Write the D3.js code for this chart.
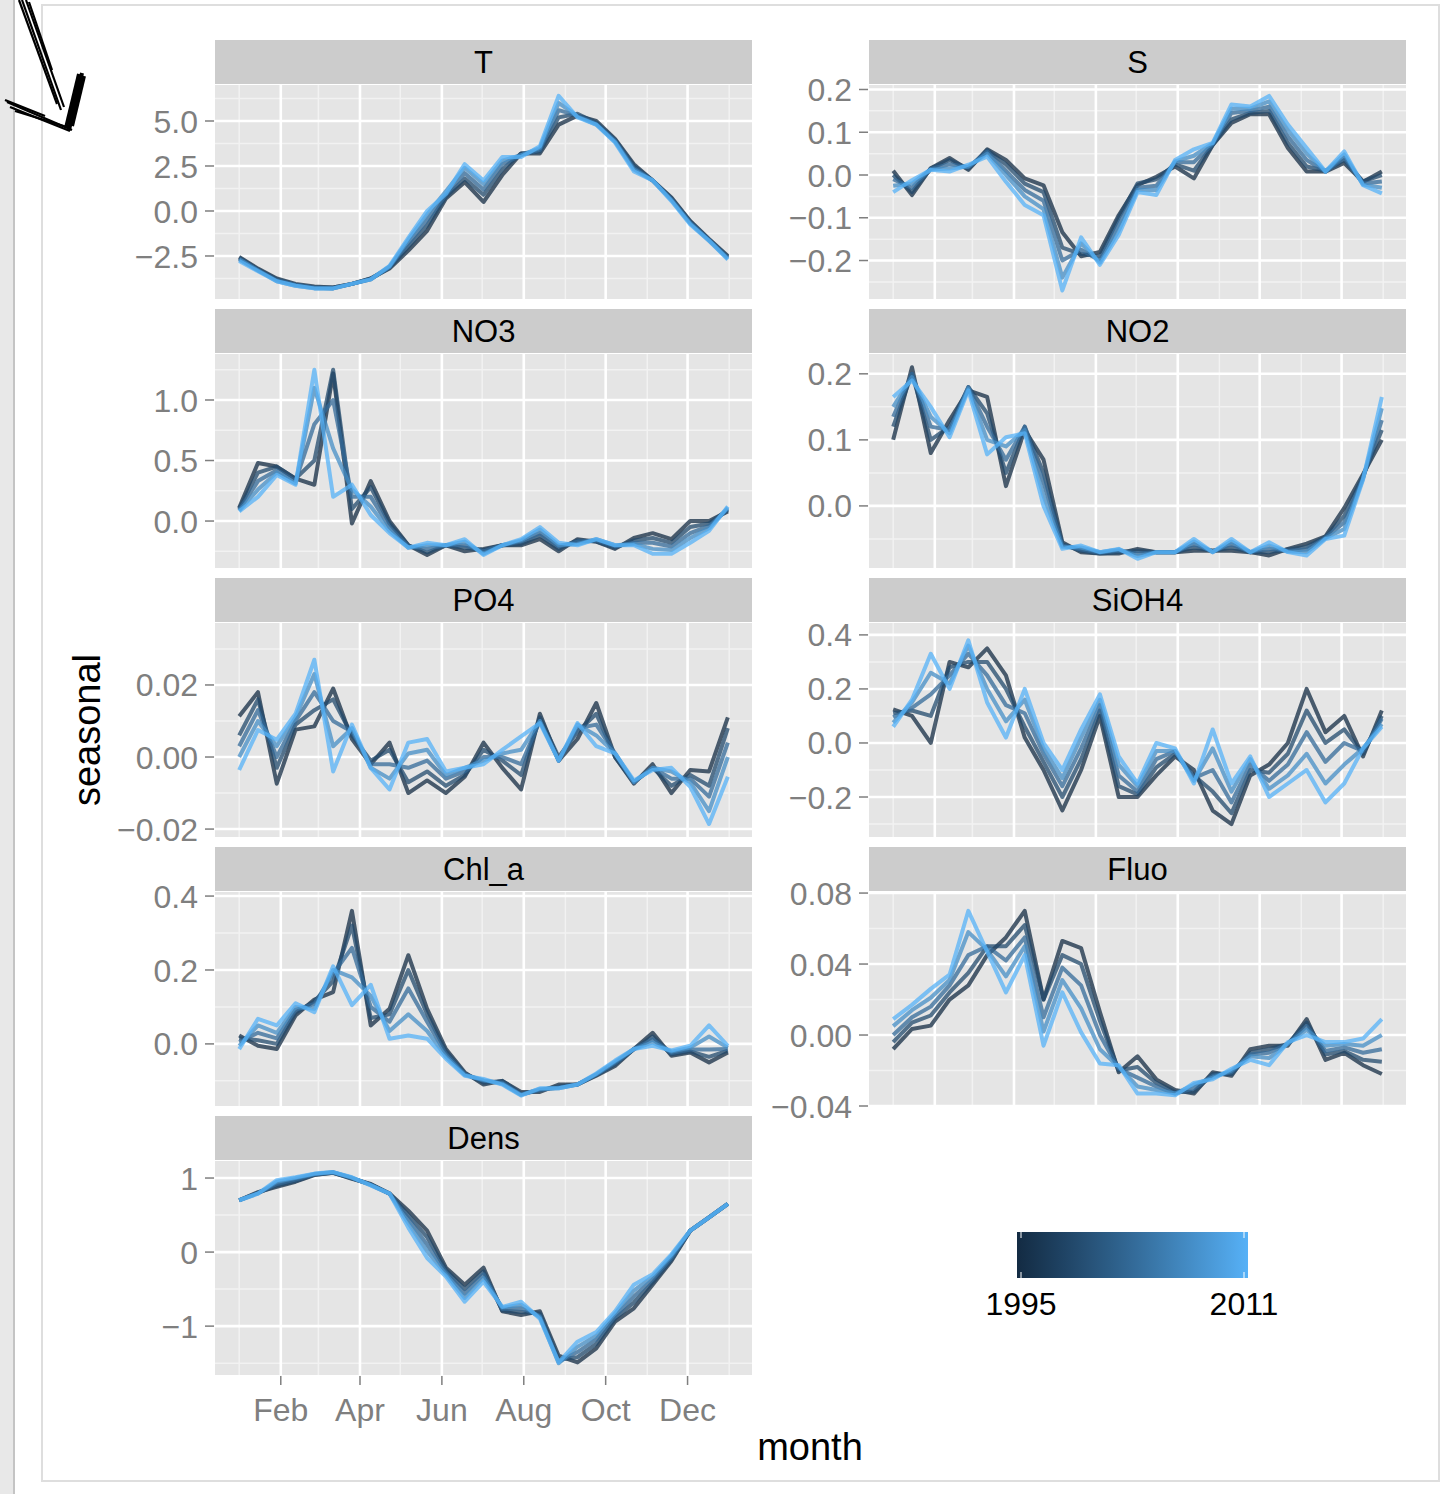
<!DOCTYPE html>
<html>
<head>
<meta charset="utf-8">
<script src="https://cdn.jsdelivr.net/npm/d3@7"></script>
<style>
  body { margin: 0; background: #fff; }
  text { font-family: "Liberation Sans", Arial, sans-serif; }
</style>
</head>
<body>
<script>
// years drawn (dark -> light) and sampling days of the year
const years = [1995, 1999, 2003, 2007, 2011];
const days = [1, 15, 29, 43, 57, 71, 85, 99, 113, 127, 141, 155, 169, 183, 197, 211, 225, 239, 253, 267, 281, 295, 309, 323, 337, 351, 365];

// seasonal component, one row per year (same order as `years`)
const T = [
  [-2.55,-3.2,-3.75,-4.05,-4.2,-4.25,-4.05,-3.75,-3.2,-2.2,-1.1,0.7,1.6,0.5,2.0,3.2,3.2,4.8,5.3,5.0,4.0,2.6,1.7,0.75,-0.55,-1.55,-2.5],
  [-2.6,-3.25,-3.8,-4.1,-4.25,-4.25,-4.05,-3.75,-3.15,-2.0,-0.8,0.8,1.8,0.9,2.3,3.2,3.3,5.2,5.4,4.9,3.95,2.5,1.7,0.7,-0.6,-1.6,-2.55],
  [-2.65,-3.3,-3.85,-4.1,-4.25,-4.3,-4.05,-3.8,-3.1,-1.8,-0.5,0.9,2.1,1.2,2.6,3.1,3.4,5.6,5.3,4.85,3.9,2.4,1.7,0.65,-0.65,-1.6,-2.6],
  [-2.7,-3.3,-3.9,-4.15,-4.3,-4.3,-4.05,-3.8,-3.1,-1.6,-0.2,1.1,2.4,1.5,2.8,3.1,3.5,6.0,5.25,4.8,3.85,2.3,1.7,0.6,-0.7,-1.65,-2.65],
  [-2.78,-3.35,-3.9,-4.15,-4.3,-4.3,-4.05,-3.8,-3.05,-1.5,0.0,0.95,2.6,1.7,3.0,3.0,3.6,6.4,5.2,4.8,3.8,2.2,1.7,0.55,-0.75,-1.65,-2.7]
];
const S = [
  [0.01,-0.047,0.016,0.04,0.012,0.06,0.035,-0.008,-0.024,-0.134,-0.19,-0.18,-0.094,-0.024,-0.004,0.02,-0.008,0.07,0.122,0.142,0.142,0.063,0.008,0.008,0.028,-0.016,0.008],
  [0.0,-0.04,0.015,0.035,0.015,0.058,0.025,-0.02,-0.04,-0.17,-0.185,-0.19,-0.1,-0.02,-0.01,0.025,0.01,0.07,0.13,0.145,0.15,0.075,0.02,0.01,0.035,-0.015,0.0],
  [-0.01,-0.03,0.014,0.025,0.018,0.055,0.01,-0.035,-0.06,-0.2,-0.175,-0.2,-0.115,-0.03,-0.025,0.03,0.03,0.072,0.145,0.15,0.16,0.09,0.035,0.008,0.04,-0.02,-0.015],
  [-0.025,-0.02,0.013,0.015,0.02,0.05,0.0,-0.05,-0.08,-0.24,-0.16,-0.205,-0.13,-0.035,-0.035,0.032,0.045,0.074,0.155,0.155,0.172,0.105,0.05,0.008,0.048,-0.022,-0.03],
  [-0.04,-0.012,0.012,0.008,0.024,0.043,-0.016,-0.07,-0.094,-0.27,-0.146,-0.21,-0.14,-0.04,-0.047,0.035,0.06,0.075,0.165,0.16,0.185,0.118,0.063,0.008,0.055,-0.024,-0.043]
];
const NO3 = [
  [0.11,0.48,0.45,0.35,0.3,1.22,-0.02,0.33,0.0,-0.2,-0.28,-0.2,-0.25,-0.23,-0.2,-0.2,-0.15,-0.25,-0.15,-0.17,-0.23,-0.14,-0.1,-0.15,0.0,0.0,0.08],
  [0.1,0.4,0.45,0.35,0.5,1.25,0.1,0.28,-0.02,-0.2,-0.26,-0.2,-0.22,-0.24,-0.2,-0.19,-0.12,-0.23,-0.16,-0.17,-0.22,-0.16,-0.14,-0.18,-0.05,-0.02,0.09],
  [0.09,0.33,0.42,0.33,0.8,1.0,0.2,0.2,-0.05,-0.21,-0.23,-0.2,-0.2,-0.25,-0.2,-0.17,-0.1,-0.21,-0.17,-0.16,-0.21,-0.18,-0.18,-0.21,-0.1,-0.04,0.1],
  [0.085,0.26,0.4,0.31,1.1,0.6,0.26,0.12,-0.08,-0.22,-0.2,-0.2,-0.17,-0.27,-0.2,-0.16,-0.07,-0.2,-0.19,-0.15,-0.2,-0.19,-0.23,-0.24,-0.14,-0.06,0.11],
  [0.08,0.2,0.38,0.3,1.25,0.2,0.3,0.05,-0.1,-0.22,-0.18,-0.2,-0.15,-0.28,-0.2,-0.15,-0.05,-0.18,-0.2,-0.15,-0.2,-0.2,-0.27,-0.27,-0.18,-0.08,0.12]
];
const NO2 = [
  [0.1,0.21,0.08,0.13,0.175,0.165,0.03,0.115,0.07,-0.055,-0.07,-0.072,-0.072,-0.065,-0.07,-0.07,-0.068,-0.068,-0.068,-0.07,-0.075,-0.065,-0.057,-0.046,-0.003,0.048,0.1],
  [0.12,0.2,0.1,0.12,0.18,0.14,0.05,0.12,0.05,-0.058,-0.068,-0.072,-0.07,-0.068,-0.07,-0.07,-0.063,-0.068,-0.063,-0.07,-0.07,-0.066,-0.062,-0.047,-0.015,0.045,0.115],
  [0.135,0.2,0.12,0.115,0.18,0.12,0.07,0.12,0.035,-0.06,-0.066,-0.071,-0.068,-0.072,-0.07,-0.07,-0.058,-0.069,-0.058,-0.07,-0.065,-0.068,-0.066,-0.048,-0.025,0.043,0.13],
  [0.15,0.195,0.135,0.11,0.178,0.1,0.09,0.115,0.015,-0.062,-0.063,-0.07,-0.066,-0.076,-0.07,-0.07,-0.054,-0.07,-0.054,-0.07,-0.06,-0.069,-0.07,-0.049,-0.035,0.041,0.148],
  [0.165,0.19,0.15,0.104,0.175,0.078,0.104,0.11,0.0,-0.065,-0.06,-0.07,-0.065,-0.08,-0.07,-0.07,-0.05,-0.07,-0.05,-0.07,-0.055,-0.07,-0.075,-0.05,-0.045,0.04,0.165]
];
const PO4 = [
  [0.0113,0.018,-0.0074,0.0076,0.0085,0.019,0.005,-0.002,0.004,-0.01,-0.0065,-0.01,-0.0055,0.004,-0.003,-0.009,0.012,-0.001,0.005,0.015,0.0,-0.0074,-0.002,-0.01,-0.0036,-0.004,0.011],
  [0.006,0.016,-0.003,0.009,0.013,0.016,0.006,-0.001,0.002,-0.007,-0.004,-0.008,-0.005,0.002,-0.001,-0.005,0.011,0.0,0.007,0.012,0.0,-0.007,-0.003,-0.008,-0.005,-0.008,0.008],
  [0.003,0.013,0.0,0.01,0.018,0.01,0.007,-0.002,-0.002,-0.003,-0.001,-0.006,-0.004,0.0,0.0,-0.002,0.01,-0.001,0.008,0.009,0.001,-0.007,-0.003,-0.006,-0.006,-0.011,0.004],
  [0.0,0.01,0.003,0.011,0.023,0.003,0.008,-0.003,-0.006,0.001,0.002,-0.005,-0.003,-0.001,0.001,0.002,0.01,-0.001,0.009,0.006,0.001,-0.007,-0.003,-0.004,-0.007,-0.015,0.0],
  [-0.0036,0.0075,0.0048,0.012,0.027,-0.004,0.009,-0.003,-0.009,0.004,0.005,-0.004,-0.003,-0.002,0.002,0.0057,0.0094,-0.001,0.0094,0.003,0.001,-0.0065,-0.0036,-0.003,-0.0083,-0.0186,-0.0055]
];
const SiOH4 = [
  [0.124,0.1,0.0,0.3,0.28,0.35,0.25,0.02,-0.1,-0.25,-0.1,0.1,-0.2,-0.2,-0.12,-0.05,-0.1,-0.25,-0.3,-0.12,-0.08,0.0,0.2,0.04,0.1,-0.05,0.12],
  [0.11,0.12,0.1,0.28,0.3,0.3,0.2,0.06,-0.07,-0.2,-0.06,0.12,-0.16,-0.19,-0.09,-0.04,-0.12,-0.18,-0.26,-0.1,-0.11,-0.04,0.12,0.0,0.05,-0.04,0.1],
  [0.095,0.13,0.18,0.25,0.33,0.25,0.14,0.11,-0.04,-0.16,-0.02,0.14,-0.12,-0.18,-0.06,-0.03,-0.13,-0.1,-0.22,-0.08,-0.14,-0.08,0.04,-0.07,0.0,-0.03,0.09],
  [0.075,0.15,0.26,0.22,0.36,0.2,0.08,0.16,-0.02,-0.13,0.02,0.16,-0.08,-0.16,-0.03,-0.03,-0.14,-0.02,-0.18,-0.06,-0.17,-0.12,-0.04,-0.15,-0.08,-0.02,0.07],
  [0.06,0.16,0.33,0.2,0.38,0.15,0.02,0.2,0.0,-0.1,0.05,0.18,-0.05,-0.15,0.0,-0.02,-0.15,0.05,-0.15,-0.05,-0.2,-0.15,-0.1,-0.22,-0.15,-0.02,0.06]
];
const Chl_a = [
  [0.023,-0.005,-0.014,0.077,0.12,0.14,0.36,0.05,0.095,0.24,0.095,-0.014,-0.077,-0.11,-0.1,-0.13,-0.13,-0.11,-0.11,-0.086,-0.06,-0.014,0.03,-0.032,-0.023,-0.05,-0.023],
  [0.015,0.01,0.0,0.085,0.115,0.17,0.32,0.07,0.08,0.2,0.08,-0.02,-0.08,-0.105,-0.1,-0.135,-0.125,-0.115,-0.11,-0.084,-0.055,-0.014,0.02,-0.028,-0.02,-0.035,-0.018],
  [0.005,0.03,0.015,0.092,0.108,0.19,0.26,0.1,0.06,0.15,0.06,-0.027,-0.082,-0.1,-0.105,-0.137,-0.125,-0.118,-0.11,-0.083,-0.052,-0.014,0.012,-0.025,-0.015,-0.015,-0.014],
  [-0.005,0.05,0.03,0.1,0.095,0.2,0.18,0.13,0.035,0.08,0.035,-0.034,-0.084,-0.098,-0.108,-0.138,-0.122,-0.12,-0.11,-0.082,-0.048,-0.014,0.004,-0.021,-0.01,0.02,-0.01],
  [-0.014,0.068,0.05,0.11,0.086,0.21,0.105,0.16,0.014,0.023,0.014,-0.04,-0.086,-0.095,-0.11,-0.14,-0.12,-0.12,-0.11,-0.08,-0.045,-0.014,-0.005,-0.018,-0.005,0.05,-0.005]
];
const Fluo = [
  [-0.008,0.0034,0.0053,0.02,0.028,0.045,0.055,0.07,0.02,0.053,0.049,0.013,-0.021,-0.012,-0.025,-0.031,-0.033,-0.021,-0.023,-0.008,-0.006,-0.006,0.009,-0.014,-0.01,-0.017,-0.022],
  [-0.004,0.007,0.011,0.024,0.035,0.05,0.05,0.062,0.02,0.045,0.04,0.008,-0.02,-0.018,-0.027,-0.032,-0.032,-0.022,-0.022,-0.01,-0.008,-0.005,0.007,-0.011,-0.009,-0.014,-0.015],
  [0.0,0.01,0.016,0.028,0.045,0.05,0.042,0.055,0.01,0.038,0.028,0.0,-0.019,-0.024,-0.029,-0.033,-0.03,-0.023,-0.021,-0.011,-0.01,-0.005,0.005,-0.009,-0.007,-0.01,-0.008],
  [0.005,0.014,0.021,0.031,0.058,0.048,0.033,0.05,0.002,0.031,0.015,-0.008,-0.018,-0.029,-0.031,-0.033,-0.028,-0.024,-0.02,-0.012,-0.013,-0.005,0.003,-0.006,-0.005,-0.006,0.0],
  [0.009,0.017,0.026,0.034,0.07,0.047,0.024,0.045,-0.006,0.024,0.0015,-0.016,-0.017,-0.033,-0.033,-0.034,-0.027,-0.025,-0.019,-0.014,-0.017,-0.004,0.0,-0.004,-0.004,-0.002,0.009]
];
const Dens = [
  [0.7,0.81,0.88,0.95,1.04,1.07,0.99,0.92,0.79,0.56,0.29,-0.21,-0.44,-0.21,-0.8,-0.85,-0.8,-1.4,-1.49,-1.3,-0.94,-0.76,-0.44,-0.12,0.29,0.47,0.65],
  [0.7,0.8,0.9,0.96,1.045,1.07,0.995,0.915,0.79,0.5,0.2,-0.24,-0.5,-0.26,-0.79,-0.81,-0.83,-1.45,-1.42,-1.24,-0.9,-0.68,-0.41,-0.1,0.29,0.47,0.65],
  [0.7,0.8,0.92,0.98,1.05,1.075,1.0,0.91,0.79,0.45,0.1,-0.27,-0.56,-0.3,-0.77,-0.76,-0.86,-1.48,-1.35,-1.18,-0.87,-0.6,-0.37,-0.08,0.29,0.47,0.65],
  [0.7,0.79,0.95,1.0,1.055,1.08,1.005,0.905,0.79,0.39,0.01,-0.3,-0.62,-0.35,-0.75,-0.71,-0.88,-1.5,-1.28,-1.13,-0.83,-0.52,-0.33,-0.05,0.29,0.47,0.65],
  [0.7,0.79,0.97,1.01,1.06,1.08,1.01,0.9,0.79,0.33,-0.08,-0.33,-0.67,-0.4,-0.74,-0.67,-0.9,-1.49,-1.21,-1.08,-0.8,-0.44,-0.3,-0.03,0.29,0.47,0.65]
];

// facet order and y tick labels
const variables = ['T', 'S', 'NO3', 'NO2', 'PO4', 'SiOH4', 'Chl_a', 'Fluo', 'Dens'];
const ticksT = [-2.5, 0, 2.5, 5];
const ticksS = [-0.2, -0.1, 0, 0.1, 0.2];
const ticksNO3 = [0, 0.5, 1];
const ticksNO2 = [0, 0.1, 0.2];
const ticksPO4 = [-0.02, 0, 0.02];
const ticksSiOH4 = [-0.2, 0, 0.2, 0.4];
const ticksChl_a = [0, 0.2, 0.4];
const ticksFluo = [-0.04, 0, 0.04, 0.08];
const ticksDens = [-1, 0, 1];
const monthTicks = ['Feb', 'Apr', 'Jun', 'Aug', 'Oct', 'Dec'];

const seriesByVar = { T, S, NO3, NO2, PO4, SiOH4, Chl_a, Fluo, Dens };
const ticksByVar = {
  T: ticksT, S: ticksS, NO3: ticksNO3, NO2: ticksNO2, PO4: ticksPO4,
  SiOH4: ticksSiOH4, Chl_a: ticksChl_a, Fluo: ticksFluo, Dens: ticksDens
};
const formatByVar = {
  T: '.1f', S: '.1f', NO3: '.1f', NO2: '.1f', PO4: '.2f',
  SiOH4: '.1f', Chl_a: '.1f', Fluo: '.2f', Dens: 'd'
};
// free y scales (limits of each panel)
const yLimits = {
  T: [-4.89, 7.0], S: [-0.29, 0.2105], NO3: [-0.388, 1.38], NO2: [-0.094, 0.23],
  PO4: [-0.0222, 0.0372], SiOH4: [-0.348, 0.444], Chl_a: [-0.168, 0.411],
  Fluo: [-0.04, 0.0806], Dens: [-1.66, 1.23]
};

const width = 1446;
const height = 1494;
const colX = [215, 869];
const panelW = 537;
const panelH = 214;
const stripH = 44;
const rowTop = 40;
const rowStep = 269;
const axisGrey = '#7f7f7f';

const svg = d3.select('body').append('svg')
  .attr('width', width)
  .attr('height', height);

// screenshot frame around the figure
svg.append('rect').attr('x', 0).attr('y', 0).attr('width', 13).attr('height', height).attr('fill', '#e8e8e8');
svg.append('line').attr('x1', 14).attr('x2', 14).attr('y1', 0).attr('y2', height)
  .attr('stroke', '#c4c4c4').attr('stroke-width', 2);
svg.append('rect').attr('x', 42).attr('y', 5).attr('width', 1397).attr('height', 1476)
  .attr('fill', 'none').attr('stroke', '#dedede').attr('stroke-width', 2);

// hand drawn arrow in the corner
const arrowStrokes = [
  [[22, 0], [61, 110]], [[26, 0], [64, 107]], [[29, 2], [52, 70]], [[19, 0], [57, 104]],
  [[7, 102], [72, 130]], [[10, 107], [70, 131]], [[15, 111], [67, 127]], [[5, 100], [45, 116]],
  [[82, 73], [69, 130]], [[79, 74], [66, 128]], [[84, 76], [72, 126]]
];
svg.append('g').selectAll('path')
  .data(arrowStrokes)
  .enter()
  .append('path')
  .attr('d', (s) => d3.line()(s))
  .attr('stroke', '#000')
  .attr('stroke-width', (s, i) => (i >= 8 ? 4 : 2.2))
  .attr('fill', 'none');

const toDate = (day) => new Date(2001, 0, day);
const pad = 364 * 0.05;
const x = d3.scaleTime()
  .domain([toDate(1 - pad), toDate(365 + pad)])
  .range([0, panelW]);
const majorDates = monthTicks.map((m) => d3.timeParse('%Y %b %d')('2001 ' + m + ' 01'));
const minorDates = [0, 2, 4, 6, 8, 10, 12].map((m) => new Date(2001, m, 1));

const color = d3.scaleLinear()
  .domain([years[0], years[years.length - 1]])
  .range(['#132B43', '#56B1F7'])
  .interpolate(d3.interpolateLab);

variables.forEach((name, i) => {
  const col = i % 2;
  const row = Math.floor(i / 2);
  const stripY = rowTop + row * rowStep;
  const px = colX[col];
  const py = stripY + stripH + 1;

  const y = d3.scaleLinear().domain(yLimits[name]).range([panelH, 0]);
  const ticks = ticksByVar[name];
  const step = ticks[1] - ticks[0];
  const minor = [ticks[0] - step / 2].concat(ticks.map((t) => t + step / 2))
    .filter((v) => v > yLimits[name][0] && v < yLimits[name][1]);

  // strip
  svg.append('rect').attr('x', px).attr('y', stripY).attr('width', panelW).attr('height', stripH)
    .attr('fill', '#cccccc');
  svg.append('text').attr('x', px + panelW / 2).attr('y', stripY + stripH / 2)
    .attr('dy', '0.36em').attr('text-anchor', 'middle')
    .attr('font-size', 31).attr('fill', '#000').text(name);

  const g = svg.append('g').attr('transform', 'translate(' + px + ',' + py + ')');
  g.append('rect').attr('width', panelW).attr('height', panelH).attr('fill', '#e5e5e5');

  g.selectAll('.minor-y').data(minor).enter().append('line')
    .attr('x1', 0).attr('x2', panelW).attr('y1', (d) => y(d)).attr('y2', (d) => y(d))
    .attr('stroke', '#f2f2f2').attr('stroke-width', 1.5);
  g.selectAll('.minor-x').data(minorDates).enter().append('line')
    .attr('x1', (d) => x(d)).attr('x2', (d) => x(d)).attr('y1', 0).attr('y2', panelH)
    .attr('stroke', '#f2f2f2').attr('stroke-width', 1.5);
  g.selectAll('.major-y').data(ticks).enter().append('line')
    .attr('x1', 0).attr('x2', panelW).attr('y1', (d) => y(d)).attr('y2', (d) => y(d))
    .attr('stroke', '#fff').attr('stroke-width', 2.6);
  g.selectAll('.major-x').data(majorDates).enter().append('line')
    .attr('x1', (d) => x(d)).attr('x2', (d) => x(d)).attr('y1', 0).attr('y2', panelH)
    .attr('stroke', '#fff').attr('stroke-width', 2.6);

  g.append('clipPath').attr('id', 'clip' + i)
    .append('rect').attr('width', panelW).attr('height', panelH);

  const line = d3.line()
    .x((v, k) => x(toDate(days[k])))
    .y((v) => y(v));

  g.append('g').attr('clip-path', 'url(#clip' + i + ')')
    .selectAll('path')
    .data(seriesByVar[name])
    .enter()
    .append('path')
    .attr('d', (s) => line(s))
    .attr('fill', 'none')
    .attr('stroke', (s, k) => color(years[k]))
    .attr('stroke-width', 4)
    .attr('stroke-opacity', 0.75)
    .attr('stroke-linejoin', 'round');

  // y axis
  const fmt = d3.format(formatByVar[name]);
  g.selectAll('.ytick').data(ticks).enter().append('line')
    .attr('x1', -10).attr('x2', -1).attr('y1', (d) => y(d)).attr('y2', (d) => y(d))
    .attr('stroke', axisGrey).attr('stroke-width', 1.5);
  g.selectAll('.ylab').data(ticks).enter().append('text')
    .attr('x', -17).attr('y', (d) => y(d)).attr('dy', '0.36em')
    .attr('text-anchor', 'end').attr('font-size', 32).attr('fill', axisGrey)
    .text((d) => fmt(d));

  // x axis only under the bottom panel
  if (name === 'Dens') {
    g.selectAll('.xtick').data(majorDates).enter().append('line')
      .attr('x1', (d) => x(d)).attr('x2', (d) => x(d)).attr('y1', panelH + 1).attr('y2', panelH + 10)
      .attr('stroke', axisGrey).attr('stroke-width', 1.5);
    g.selectAll('.xlab').data(majorDates).enter().append('text')
      .attr('x', (d) => x(d)).attr('y', panelH + 46)
      .attr('text-anchor', 'middle').attr('font-size', 32).attr('fill', axisGrey)
      .text((d, k) => monthTicks[k]);
  }
});

// axis titles
svg.append('text').attr('x', 810).attr('y', 1460).attr('text-anchor', 'middle')
  .attr('font-size', 38).attr('fill', '#000').text('month');
svg.append('text').attr('transform', 'translate(100,730) rotate(-90)').attr('text-anchor', 'middle')
  .attr('font-size', 38).attr('fill', '#000').text('seasonal');

// colourbar legend
const lx = d3.scaleLinear().domain([years[0], years[years.length - 1]]).range([1021, 1244]);
const defs = svg.append('defs');
const grad = defs.append('linearGradient').attr('id', 'yearGrad');
d3.range(0, 1.0001, 0.1).forEach((t) => {
  grad.append('stop').attr('offset', t)
    .attr('stop-color', color(years[0] + t * (years[years.length - 1] - years[0])));
});
svg.append('rect').attr('x', 1017).attr('y', 1232).attr('width', 231).attr('height', 46)
  .attr('fill', 'url(#yearGrad)');
const legendTicks = [years[0], years[years.length - 1]];
legendTicks.forEach((yr) => {
  svg.append('line').attr('x1', lx(yr)).attr('x2', lx(yr)).attr('y1', 1232).attr('y2', 1238)
    .attr('stroke', '#fff').attr('stroke-width', 1);
  svg.append('line').attr('x1', lx(yr)).attr('x2', lx(yr)).attr('y1', 1272).attr('y2', 1278)
    .attr('stroke', '#fff').attr('stroke-width', 1);
  svg.append('text').attr('x', lx(yr)).attr('y', 1315).attr('text-anchor', 'middle')
    .attr('font-size', 32).attr('fill', '#000').text(yr);
});
</script>
</body>
</html>
